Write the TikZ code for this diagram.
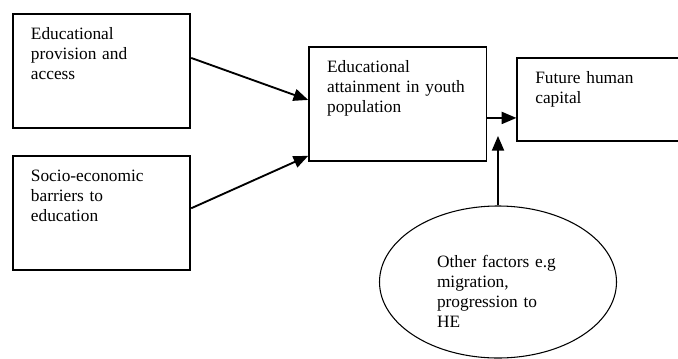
\documentclass[tikz,border=0pt]{standalone}
\usepackage{fontspec}
\setmainfont{Liberation Serif}
\usetikzlibrary{shapes.geometric, arrows.meta, positioning}

\begin{document}
\begin{tikzpicture}[
    box/.style={rectangle, draw=black, line width=1.4pt, align=left, text width=106pt, inner xsep=13.5pt, inner ysep=10pt, text height=9.5pt, font=\fontsize{13pt}{15pt}\selectfont},
    factor/.style={ellipse, draw=black, line width=0.8pt, align=left, text width=91.5pt, minimum width=177.75pt, minimum height=114pt, font=\fontsize{13pt}{15pt}\selectfont},
    line/.style={draw, line width=1.4pt, -{Triangle[length=11pt, width=9pt]}}
]
\useasboundingbox (0,0) rectangle (508.5pt,-268.5pt);

% Nodes
\node[box, text depth=56pt, anchor=north west] (prov) at (9pt,-9.75pt) {Educational\\provision and\\access};
\node[box, text depth=56pt, below=19.5pt of prov] (barr) {Socio-economic\\barriers to\\education};
\node[box, text depth=56pt, right=87.75pt of prov, yshift=-24.75pt] (attain) {Educational\\attainment in youth\\population};
\node[box, text depth=32.75pt, right=21.75pt of attain, yshift=3.4pt] (fut) {Future human\\capital};

% Other factors
\node[factor, text height=23.5pt] (other) at (373.5pt,-211.5pt) {Other factors e.g\\migration,\\progression to\\HE};
\coordinate (tip) at ([yshift=-24pt]attain.east -| other.north);

% Connections
\draw[line] ([yshift=9.75pt]prov.east) -- ([yshift=3pt]attain.west);
\draw[line] ([yshift=3.4pt]barr.east) -- ([yshift=4.5pt]attain.south west);
\draw[line] ([yshift=-10.5pt]attain.east) -- ([yshift=-10.5pt]attain.east -| fut.west);
\draw[line] (other.north) -- (tip);

\end{tikzpicture}
\end{document}
